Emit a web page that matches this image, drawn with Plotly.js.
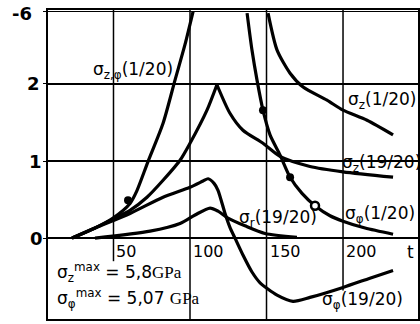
<!DOCTYPE html>
<html>
<head>
<meta charset="utf-8">
<script src="https://cdn.plot.ly/plotly-3.0.1.min.js"></script>
<style>html,body{margin:0;padding:0;background:#fff;}#chart{width:420px;height:324px;}</style>
</head>
<body>
<div id="chart"></div>
<script>
// sigma_{z,phi}(1/20)
var tZphi1 = [22.9, 37.9, 49.7, 60.8, 65.4, 72.5, 82.4, 90.2, 96.7, 102];
var vZphi1 = [0, 0.13, 0.26, 0.45, 0.62, 0.99, 1.49, 2.05, 2.51, 2.94];
// sigma_z(19/20) rising and falling branches (sharp peak)
var tZ19Rise = [22.9, 37.9, 51, 60.8, 71.9, 82.4, 93.5, 100, 111.1, 117.6];
var vZ19Rise = [0, 0.13, 0.26, 0.36, 0.53, 0.75, 1.01, 1.23, 1.66, 1.99];
var tZ19Fall = [117.6, 126.1, 134.6, 147.7, 158.8, 178.4, 200, 232.7];
var vZ19Fall = [1.99, 1.62, 1.40, 1.23, 1.06, 0.93, 0.86, 0.79];
// sigma_phi(19/20)
var tPhi19 = [22.9, 37.9, 60.8, 82.4, 100, 108.5, 111.8, 115.7, 118.3, 122.9, 126.1, 129.4, 134.6, 140.5, 145.8, 156.9, 167.3, 178.4, 200, 217.6, 232.7];
var vPhi19 = [0, 0.13, 0.32, 0.53, 0.66, 0.74, 0.77, 0.71, 0.62, 0.32, 0.14, 0, -0.22, -0.44, -0.58, -0.74, -0.82, -0.77, -0.64, -0.52, -0.42];
// sigma_r(19/20)
var tR19 = [37.9, 73.9, 93.5, 103.3, 113.1, 118.3, 124.8, 135.9, 149, 169.9];
var vR19 = [0, 0.09, 0.19, 0.30, 0.39, 0.35, 0.26, 0.16, 0.06, 0.01];
// sigma_phi(1/20)
var tPhi1 = [137.3, 140.5, 143.8, 147.7, 152.3, 158.8, 165.4, 173.2, 181.7, 191.5, 200, 214.4, 232.7];
var vPhi1 = [2.92, 2.44, 2.05, 1.66, 1.34, 1.08, 0.79, 0.58, 0.42, 0.29, 0.22, 0.13, 0.05];
// sigma_z(1/20)
var tZ1 = [151, 156.9, 165.4, 173.9, 189.5, 200, 215.7, 232.7];
var vZ1 = [2.92, 2.44, 2.14, 1.96, 1.79, 1.66, 1.53, 1.34];
// marked points
var dotT = [59.5, 147.7, 165.4];
var dotV = [0.49, 1.66, 0.79];
var ringT = [181.7];
var ringV = [0.42];
// axis ticks
var yTickVals = [0, 1, 2, 2.94];
var yTickText = ['0', '1', '2', '-6'];
var xTickVals = [50, 100, 150, 200];
var xTickText = ['50', '100', '150', '200'];

var lineStyle = {color: '#000', width: 3.2, shape: 'spline', smoothing: 0.7};
function curve(t, v) {
  return {x: t, y: v, type: 'scatter', mode: 'lines', line: lineStyle, hoverinfo: 'skip', showlegend: false};
}
var traces = [
  curve(tZphi1, vZphi1),
  curve(tZ19Rise, vZ19Rise),
  curve(tZ19Fall, vZ19Fall),
  curve(tPhi19, vPhi19),
  curve(tR19, vR19),
  curve(tPhi1, vPhi1),
  curve(tZ1, vZ1),
  {x: dotT, y: dotV, type: 'scatter', mode: 'markers', marker: {color: '#000', size: 8}, showlegend: false, hoverinfo: 'skip'},
  {x: ringT, y: ringV, type: 'scatter', mode: 'markers', marker: {color: '#fff', size: 8, line: {color: '#000', width: 2.5}}, showlegend: false, hoverinfo: 'skip'}
];

var F = 'DejaVu Sans, sans-serif';
var PHI = '<span style="color:#000">φ</span>';
var annotations = [];
xTickVals.forEach(function (v, i) {
  annotations.push({x: v, y: -0.18, xref: 'x', yref: 'y', text: xTickText[i], showarrow: false, xanchor: 'left', xshift: 1, font: {family: F, size: 16, color: '#000'}});
});
annotations.push({x: 244, y: -0.18, xref: 'x', yref: 'y', text: 't', showarrow: false, xanchor: 'center', font: {family: F, size: 17, color: '#000'}});
// y tick labels, centred left of the frame (paper coordinates)
var yLabX = [-0.03, -0.035, -0.038, -0.07];
yTickVals.forEach(function (v, i) {
  annotations.push({x: yLabX[i], y: v, xref: 'paper', yref: 'y', text: yTickText[i], showarrow: false, xanchor: 'center', yanchor: 'middle', yshift: (i === 3 ? -2 : 0), font: {family: F, size: 18, color: '#000', weight: 'bold'}});
});
function lab(x, y, txt) {
  annotations.push({x: x, y: y, xref: 'x', yref: 'y', text: txt, showarrow: false, xanchor: 'center', yanchor: 'middle', font: {family: F, size: 17, color: '#000'}});
}
lab(62.7, 2.17, 'σ<sub>z,' + PHI + '</sub>(1/20)');
lab(225.5, 1.78, 'σ<sub>z</sub>(1/20)');
lab(225, 0.97, 'σ<sub>z</sub>(19/20)');
lab(157.5, 0.25, 'σ<sub>r</sub>(19/20)');
lab(224, 0.31, 'σ<sub>' + PHI + '</sub>(1/20)');
lab(213, -0.81, 'σ<sub>' + PHI + '</sub>(19/20)');
annotations.push({x: 11.5, y: -0.45, xref: 'x', yref: 'y', text: 'σ<sub>z</sub><sup>max</sup> = 5,8<span style="font-family:Liberation Serif">GPa</span>', showarrow: false, xanchor: 'left', font: {family: F, size: 17, color: '#000'}});
annotations.push({x: 11.5, y: -0.79, xref: 'x', yref: 'y', text: 'σ<sub>' + PHI + '</sub><sup>max</sup> = 5,07 <span style="font-family:Liberation Serif">GPa</span>', showarrow: false, xanchor: 'left', font: {family: F, size: 17, color: '#000'}});

var shapes = [];
var vEnd = [-0.3, -1.1, -1.1, -0.68];
xTickVals.forEach(function (v, i) {
  shapes.push({type: 'line', xref: 'x', yref: 'y', x0: v, x1: v, y0: vEnd[i], y1: 3, line: {color: '#000', width: 1.5}, layer: 'below'});
});

var layout = {
  width: 420, height: 324,
  margin: {l: 48, r: 2, t: 10, b: 5},
  paper_bgcolor: '#fff', plot_bgcolor: '#fff',
  showlegend: false,
  xaxis: {range: [7.2, 249], showgrid: false, zeroline: false, showticklabels: false, ticks: '', showline: true, mirror: true, linecolor: '#000', linewidth: 2},
  yaxis: {range: [-1.05, 2.96], tickvals: yTickVals, showticklabels: false, showgrid: true, gridcolor: '#000', gridwidth: 1.5, zeroline: false, ticks: 'outside', ticklen: 3, tickcolor: '#000', showline: true, mirror: true, linecolor: '#000', linewidth: 2},
  annotations: annotations,
  shapes: shapes
};
Plotly.newPlot('chart', traces, layout, {staticPlot: true, displayModeBar: false});
</script>
</body>
</html>
